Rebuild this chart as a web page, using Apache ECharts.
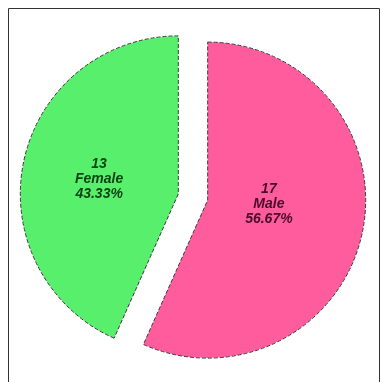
<!DOCTYPE html>
<html>
<head>
<meta charset="utf-8">
<script src="https://cdn.jsdelivr.net/npm/echarts@6/dist/echarts.min.js"></script>
<style>
  html, body { margin: 0; padding: 0; background: #fff; }
  #chart { width: 382px; height: 382px; }
</style>
</head>
<body>
<div id="chart"></div>
<script>
// gender counts
const categories = ['Male', 'Female']
const counts = [17, 13]
const sliceColors = ['#ff5c9e', '#58ef6c']
const labelColors = ['#4a0a2a', '#0b4412']
// the male label sits closer to the centre than 'inner' puts it
const labelShift = [[-19, -13], [1, 2]]

const chart = echarts.init(document.getElementById('chart'), null, { renderer: 'canvas' })

const option = {
  animation: false,
  backgroundColor: '#ffffff',
  // outer frame
  graphic: [{
    type: 'rect',
    shape: { x: 8.5, y: 8.5, width: 371, height: 380 },
    style: { fill: 'none', stroke: '#333', lineWidth: 1 },
    silent: true
  }],
  series: [{
    type: 'pie',
    center: [193, 197],
    radius: ['0%', 158],
    startAngle: 90,
    clockwise: true,
    selectedMode: 'multiple',
    selectedOffset: 15,
    emphasis: { disabled: true },
    itemStyle: {
      borderColor: '#3a3a3a',
      borderWidth: 1,
      borderType: 'dashed'
    },
    label: {
      show: true,
      position: 'inner',
      formatter: '{c}\n{b}\n{d}%',
      fontFamily: 'Liberation Sans, Arial, sans-serif',
      fontSize: 14,
      fontWeight: 'bold',
      fontStyle: 'italic',
      lineHeight: 15,
      align: 'center'
    },
    labelLayout: function (params) {
      const s = labelShift[params.dataIndex]
      return { dx: s[0], dy: s[1] }
    },
    labelLine: { show: false },
    data: categories.map((name, i) => ({
      name: name,
      value: counts[i],
      selected: true,
      itemStyle: { color: sliceColors[i] },
      label: { color: labelColors[i] }
    }))
  }]
}

chart.setOption(option)
</script>
</body>
</html>
